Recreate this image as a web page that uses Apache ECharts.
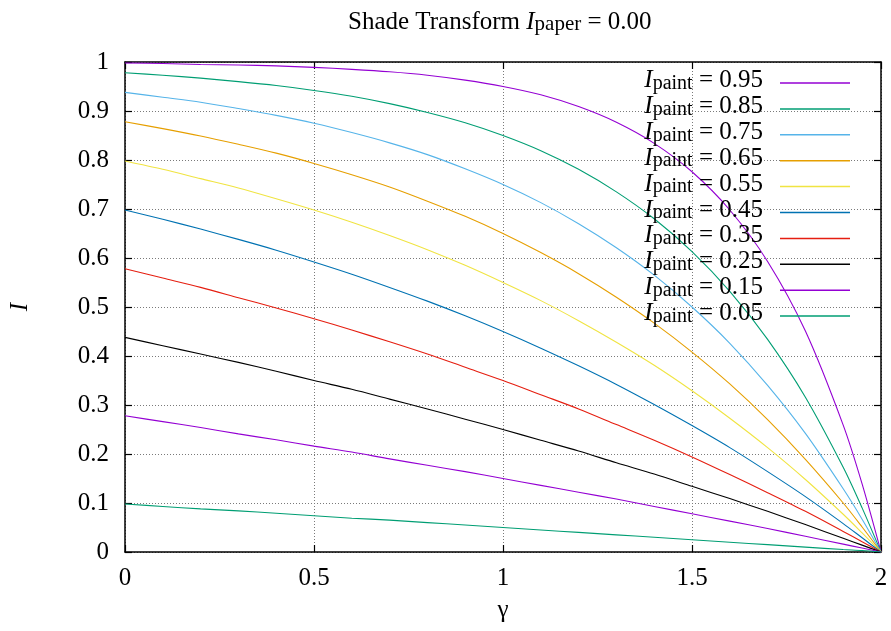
<!DOCTYPE html>
<html>
<head>
<meta charset="utf-8">
<script src="https://cdn.jsdelivr.net/npm/echarts@6/dist/echarts.min.js"></script>
<style>html,body{margin:0;padding:0;background:#fff;}#c{width:891px;height:631px;}</style>
</head>
<body>
<div id="c"></div>
<script>
// gamma values (x)
const gamma = [0,0.1,0.2,0.3,0.4,0.5,0.6,0.7,0.8,0.9,1,1.1,1.2,1.3,1.4,1.5,1.6,1.7,1.8,1.9,1.95,2];
// legend names (I_paint)
const paintLabels = ['0.95','0.85','0.75','0.65','0.55','0.45','0.35','0.25','0.15','0.05'];
// I values read per curve
const I095 = [0.998,0.997,0.995,0.994,0.992,0.989,0.985,0.980,0.973,0.963,0.950,0.933,0.909,0.877,0.834,0.776,0.698,0.593,0.451,0.259,0.139,0];
const I085 = [0.978,0.973,0.967,0.960,0.952,0.942,0.930,0.915,0.897,0.876,0.850,0.819,0.781,0.735,0.680,0.613,0.532,0.434,0.316,0.173,0.090,0];
const I075 = [0.938,0.928,0.918,0.905,0.891,0.875,0.856,0.835,0.811,0.782,0.750,0.713,0.670,0.621,0.565,0.500,0.426,0.340,0.242,0.129,0.067,0];
const I065 = [0.878,0.864,0.849,0.832,0.814,0.793,0.770,0.745,0.716,0.685,0.650,0.611,0.568,0.520,0.467,0.408,0.343,0.270,0.189,0.100,0.051,0];
const I055 = [0.798,0.781,0.762,0.743,0.721,0.698,0.673,0.646,0.617,0.585,0.550,0.513,0.472,0.428,0.381,0.329,0.273,0.213,0.148,0.077,0.039,0];
const I045 = [0.698,0.679,0.659,0.638,0.616,0.592,0.567,0.540,0.512,0.482,0.450,0.416,0.380,0.342,0.301,0.258,0.213,0.164,0.113,0.058,0.029,0];
const I035 = [0.578,0.559,0.540,0.519,0.498,0.476,0.453,0.429,0.404,0.377,0.350,0.321,0.292,0.260,0.228,0.194,0.158,0.121,0.083,0.042,0.021,0];
const I025 = [0.438,0.421,0.404,0.387,0.369,0.350,0.332,0.312,0.292,0.271,0.250,0.228,0.206,0.182,0.159,0.134,0.109,0.083,0.056,0.028,0.014,0];
const I015 = [0.278,0.266,0.254,0.241,0.229,0.216,0.204,0.190,0.177,0.164,0.150,0.136,0.122,0.108,0.093,0.078,0.063,0.048,0.032,0.016,0.008,0];
const I005 = [0.098,0.093,0.088,0.084,0.079,0.074,0.069,0.065,0.060,0.055,0.050,0.045,0.040,0.035,0.030,0.025,0.020,0.015,0.010,0.005,0.003,0];
const curves = [I095,I085,I075,I065,I055,I045,I035,I025,I015,I005];
const colors = ['#9400d3','#009e73','#56b4e9','#e69f00','#f0e442','#0072b2','#e51e10','#000000','#9400d3','#009e73'];

const FONT = 'Liberation Serif';
const chart = echarts.init(document.getElementById('c'), null, {renderer:'canvas'});

const series = curves.map((vals, k) => ({
  name: paintLabels[k],
  type: 'line',
  xAxisIndex: 0, yAxisIndex: 0,
  data: gamma.map((g, i) => [g, vals[i]]),
  showSymbol: false, symbol: 'none',
  smooth: 0.3,
  lineStyle: {color: colors[k], width: 1.1},
  itemStyle: {color: colors[k]},
  emphasis: {disabled: true},
  animation: false
}));

const axisCommon = {
  type: 'value',
  axisLine: {show: true, onZero: false, lineStyle: {color: '#000', width: 1.5}},
  axisTick: {show: true, inside: true, length: 7, lineStyle: {color: '#000', width: 1.2}},
  minorTick: {show: false}
};

chart.setOption({
  animation: false,
  color: colors,
  title: {
    text: '{n|Shade Transform }{i|I}{s|paper}{n| = 0.00}',
    left: 348, top: 9, padding: 0,
    textStyle: {
      fontWeight: 'normal',
      rich: {
        n: {fontFamily: FONT, fontSize: 25, lineHeight: 26, fontWeight: 'normal', color: '#000'},
        i: {fontFamily: FONT, fontSize: 25, lineHeight: 26, fontStyle: 'italic', fontWeight: 'normal', color: '#000'},
        s: {fontFamily: FONT, fontSize: 21, lineHeight: 14, verticalAlign: 'bottom', fontWeight: 'normal', color: '#000'}
      }
    }
  },
  legend: {
    orient: 'vertical', right: 41, top: 68, padding: 0,
    align: 'right', itemWidth: 70, itemHeight: 1.5, itemGap: 0.4,
    icon: 'rect', selectedMode: false,
    data: paintLabels,
    formatter: name => '{i|I}{s|paint}{t| = ' + name + '}',
    textStyle: {
      padding: [0, 12, 5, 0],
      rich: {
        i: {fontFamily: FONT, fontSize: 25, lineHeight: 26, fontStyle: 'italic', color: '#000'},
        s: {fontFamily: FONT, fontSize: 20, lineHeight: 7, verticalAlign: 'bottom', color: '#000'},
        t: {fontFamily: FONT, fontSize: 25, lineHeight: 26, color: '#000'}
      }
    }
  },
  grid: {left: 125, right: 10, top: 62, bottom: 79, containLabel: false},
  xAxis: [
    Object.assign({}, axisCommon, {
      position: 'bottom', min: 0, max: 2, interval: 0.5,
      name: 'γ', nameLocation: 'middle', nameGap: 46,
      nameTextStyle: {fontFamily: FONT, fontSize: 25, color: '#000'},
      axisLabel: {show: true, margin: 14, fontFamily: FONT, fontSize: 25, color: '#000'},
      splitLine: {show: true, lineStyle: {color: '#7a7a7a', width: 1, type: [1, 2]}}
    }),
    Object.assign({}, axisCommon, {
      position: 'top', min: 0, max: 2, interval: 0.5,
      axisLabel: {show: false}, splitLine: {show: false}
    })
  ],
  yAxis: [
    Object.assign({}, axisCommon, {
      position: 'left', min: 0, max: 1, interval: 0.1,
      name: 'I', nameLocation: 'middle', nameGap: 92, nameRotate: 90,
      nameTextStyle: {fontFamily: FONT, fontSize: 25, fontStyle: 'italic', color: '#000'},
      axisLabel: {show: true, margin: 16, fontFamily: FONT, fontSize: 25, color: '#000'},
      splitLine: {show: true, lineStyle: {color: '#7a7a7a', width: 1, type: [1, 2]}}
    }),
    Object.assign({}, axisCommon, {
      position: 'right', min: 0, max: 1, interval: 0.1,
      axisLabel: {show: false}, splitLine: {show: false}
    })
  ],
  series: series
});
</script>
</body>
</html>
